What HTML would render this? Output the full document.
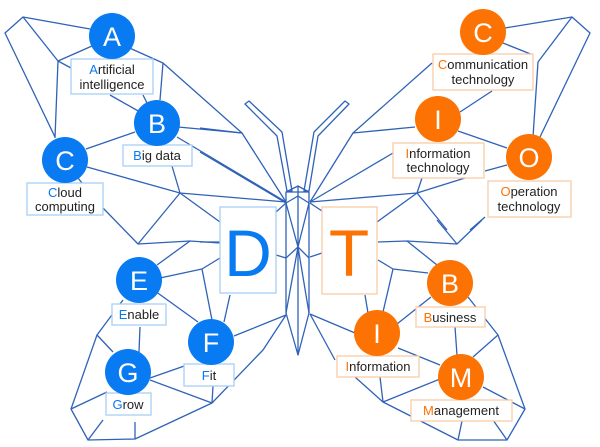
<!DOCTYPE html>
<html><head><meta charset="utf-8"><style>
html,body{margin:0;padding:0;background:#fff;width:600px;height:447px;overflow:hidden}
svg text{font-family:"Liberation Sans","DejaVu Sans",sans-serif}
</style></head><body>
<svg width="600" height="447" viewBox="0 0 600 447" xmlns="http://www.w3.org/2000/svg">
<g fill="none" stroke="#2f62b8" stroke-width="1.3" stroke-linejoin="round">
<polyline points="90,29 23,17 5,33 55,137"/>
<polyline points="23,17 58,61 55,138"/>
<line x1="58" y1="61" x2="92" y2="46"/>
<line x1="58" y1="61" x2="71" y2="68"/>
<line x1="125" y1="46" x2="163" y2="63"/>
<polyline points="163,63 160,100"/>
<polyline points="163,63 242,133 286,202"/>
<line x1="110" y1="95" x2="140" y2="112"/>
<line x1="143" y1="95" x2="147" y2="103"/>
<line x1="178" y1="127" x2="242" y2="133"/>
<line x1="135" y1="132" x2="86" y2="149"/>
<line x1="177" y1="137" x2="286" y2="202"/>
<polyline points="87,167 180,193 286,202"/>
<line x1="172" y1="166" x2="180" y2="193"/>
<line x1="180" y1="193" x2="220" y2="222"/>
<line x1="180" y1="193" x2="138" y2="244"/>
<line x1="78" y1="178" x2="82" y2="183"/>
<polyline points="103,208 138,244 190,241 220,243"/>
<line x1="190" y1="241" x2="157" y2="265"/>
<line x1="160" y1="278" x2="202" y2="269"/>
<line x1="202" y1="269" x2="220" y2="258"/>
<line x1="202" y1="269" x2="212" y2="320"/>
<line x1="155" y1="291" x2="198" y2="322"/>
<line x1="230" y1="295" x2="224" y2="322"/>
<polyline points="234,336 286,315"/>
<polyline points="123,300 97,335 113,352"/>
<line x1="140" y1="327" x2="139" y2="352"/>
<polyline points="97,335 71,409 88,440 135,439 212,403 263,350 286,315"/>
<line x1="71" y1="409" x2="107" y2="392"/>
<line x1="103" y1="420" x2="88" y2="440"/>
<line x1="135" y1="422" x2="135" y2="439"/>
<line x1="150" y1="378" x2="190" y2="364"/>
<line x1="150" y1="380" x2="212" y2="403"/>
<line x1="213" y1="386" x2="212" y2="403"/>
<line x1="200" y1="128" x2="242" y2="133"/>
<line x1="200" y1="152" x2="286" y2="203"/>
<line x1="276" y1="212" x2="286" y2="203"/>
<line x1="276" y1="255" x2="286" y2="258"/>
<line x1="200" y1="242" x2="220" y2="242"/>
<polygon points="286,192 298,186 309,192 309,313 298,355 286,313"/>
<line x1="298" y1="186" x2="298" y2="355"/>
<polyline points="286,203 298,196 309,203"/>
<line x1="286" y1="192" x2="309" y2="192"/>
<polyline points="286,203 298,247 309,203"/>
<polyline points="286,258 298,247 309,258"/>
<polyline points="286,313 298,247 309,313"/>
<polygon points="245,104 249,101 282,132 292,191 287,191 277,136"/>
<polygon points="349,104 345,101 314,132 304,191 309,191 318,136"/>
<polyline points="505,28 572,17 590,33 540,137"/>
<line x1="572" y1="17" x2="538" y2="62"/>
<line x1="538" y1="62" x2="533" y2="137"/>
<line x1="503" y1="43" x2="533" y2="55"/>
<polyline points="432,63 353,133 310,202"/>
<line x1="353" y1="133" x2="415" y2="127"/>
<line x1="492" y1="91" x2="460" y2="112"/>
<line x1="458" y1="131" x2="507" y2="148"/>
<line x1="393" y1="153" x2="310" y2="202"/>
<polyline points="422,178 417,193 310,202"/>
<polyline points="465,178 417,193"/>
<line x1="485" y1="171" x2="507" y2="165"/>
<line x1="417" y1="193" x2="377" y2="222"/>
<line x1="417" y1="193" x2="447" y2="230"/>
<polyline points="485,217 470,230"/>
<polyline points="437,220 457,244 482,220"/>
<polyline points="378,242 407,241 457,244"/>
<line x1="407" y1="241" x2="437" y2="265"/>
<polyline points="378,260 393,269 428,273"/>
<line x1="393" y1="269" x2="383" y2="312"/>
<line x1="365" y1="295" x2="368" y2="313"/>
<line x1="397" y1="324" x2="431" y2="297"/>
<line x1="455" y1="327" x2="457" y2="355"/>
<polyline points="468,297 498,335 525,409 507,440 458,440 383,402 355,377"/>
<line x1="498" y1="335" x2="473" y2="357"/>
<line x1="483" y1="387" x2="525" y2="409"/>
<line x1="493" y1="420" x2="507" y2="440"/>
<line x1="462" y1="421" x2="458" y2="440"/>
<line x1="380" y1="377" x2="383" y2="402"/>
<line x1="383" y1="402" x2="440" y2="379"/>
<line x1="398" y1="348" x2="440" y2="365"/>
<line x1="310" y1="314" x2="355" y2="333"/>
<line x1="310" y1="314" x2="335" y2="360"/>
<line x1="310" y1="257" x2="322" y2="253"/>
<line x1="310" y1="203" x2="322" y2="211"/>
</g>
<g fill="#fff" stroke-width="1.3">
<rect x="71" y="59" width="82" height="35" stroke="#a9d0f7"/>
<rect x="123" y="145" width="69" height="21" stroke="#a9d0f7"/>
<rect x="27" y="183" width="76" height="32" stroke="#a9d0f7"/>
<rect x="112" y="304" width="54" height="21" stroke="#a9d0f7"/>
<rect x="184" y="364" width="50" height="22" stroke="#a9d0f7"/>
<rect x="106" y="393" width="45" height="22" stroke="#a9d0f7"/>
<rect x="220" y="207" width="56" height="86" stroke="#a9d0f7"/>
<rect x="433" y="54" width="100" height="36" stroke="#f8cba6"/>
<rect x="393" y="143" width="91" height="35" stroke="#f8cba6"/>
<rect x="488" y="181" width="83" height="36" stroke="#f8cba6"/>
<rect x="416" y="307" width="69" height="20" stroke="#f8cba6"/>
<rect x="337" y="356" width="82" height="21" stroke="#f8cba6"/>
<rect x="411" y="400" width="101" height="21" stroke="#f8cba6"/>
<rect x="322" y="207" width="55" height="87" stroke="#f8cba6"/>
</g>
<g fill="#087af2">
<circle cx="112" cy="36" r="23"/><circle cx="157" cy="123" r="23"/><circle cx="65" cy="160" r="23"/>
<circle cx="139" cy="280" r="23"/><circle cx="211" cy="342" r="23"/><circle cx="128" cy="372" r="23"/>
</g>
<g fill="#fc7203">
<circle cx="483" cy="32" r="23"/><circle cx="438" cy="119" r="23"/><circle cx="529" cy="157" r="23"/>
<circle cx="450" cy="283" r="23"/><circle cx="377" cy="333" r="23"/><circle cx="461" cy="377" r="23"/>
</g>
<g fill="#fff" font-size="27" text-anchor="middle">
<text x="112" y="46">A</text><text x="157" y="133">B</text><text x="65" y="170">C</text>
<text x="139" y="290">E</text><text x="211" y="352">F</text><text x="128" y="382">G</text>
<text x="483" y="42">C</text><text x="438" y="129">I</text><text x="529" y="167">O</text>
<text x="450" y="293">B</text><text x="377" y="343">I</text><text x="461" y="387">M</text>
</g>
<text x="248" y="276" font-size="66" fill="#087af2" text-anchor="middle">D</text>
<text x="349" y="276" font-size="66" fill="#fc7203" text-anchor="middle">T</text>
<g font-size="13" fill="#222" text-anchor="middle">
<text x="112" y="74"><tspan fill="#087af2">A</tspan>rtificial</text>
<text x="112" y="89">intelligence</text>
<text x="157" y="160"><tspan fill="#087af2">B</tspan>ig data</text>
<text x="65" y="197"><tspan fill="#087af2">C</tspan>loud</text>
<text x="65" y="211">computing</text>
<text x="139" y="319"><tspan fill="#087af2">E</tspan>nable</text>
<text x="209" y="380"><tspan fill="#087af2">F</tspan>it</text>
<text x="128" y="409"><tspan fill="#087af2">G</tspan>row</text>
<text x="483" y="69"><tspan fill="#fc7203">C</tspan>ommunication</text>
<text x="483" y="84">technology</text>
<text x="438" y="158"><tspan fill="#fc7203">I</tspan>nformation</text>
<text x="438" y="172">technology</text>
<text x="529" y="196"><tspan fill="#fc7203">O</tspan>peration</text>
<text x="529" y="211">technology</text>
<text x="450" y="322"><tspan fill="#fc7203">B</tspan>usiness</text>
<text x="378" y="371"><tspan fill="#fc7203">I</tspan>nformation</text>
<text x="461" y="415"><tspan fill="#fc7203">M</tspan>anagement</text>
</g>
</svg>
</body></html>
